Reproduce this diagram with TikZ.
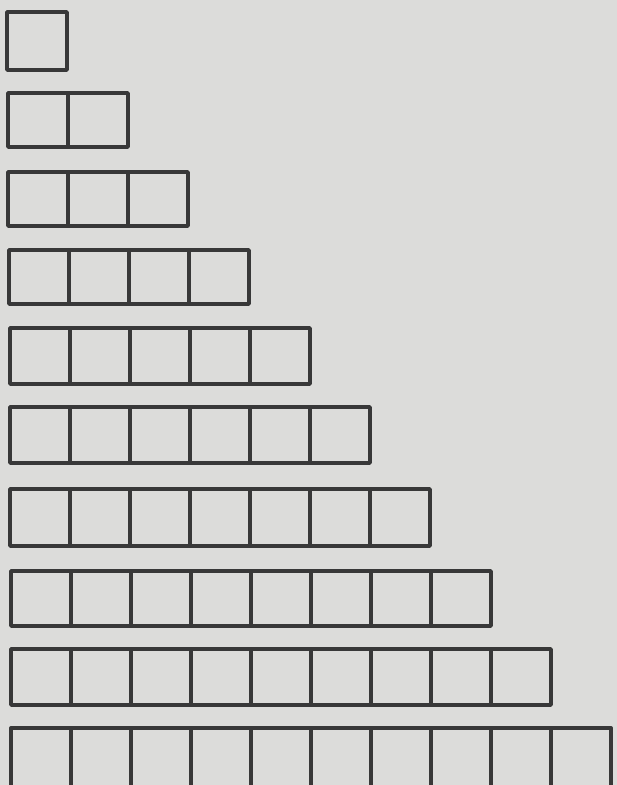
\documentclass[tikz,border=0pt]{standalone}
\usepackage{tikz}
\usetikzlibrary{positioning}
\definecolor{paper}{HTML}{DCDCDA}
\definecolor{ink}{HTML}{383838}

\begin{document}
\begin{tikzpicture}[x=0.5pt,y=-0.5pt]
    % Paper (fixes the margins)
    \useasboundingbox (0,0) rectangle (616,785);
    \fill[paper,overlay] (-10,-10) rectangle (630,800);
    \clip (0,0) rectangle (616,785);

    % Rows of cells: row k has k cells of width 60
    \foreach \k/\x/\t/\b in {1/7/12/70, 2/8/93/147, 3/8/172/226, 4/9/250/304,
                            5/10/328/384, 6/10/407/463, 7/10/489/546,
                            8/11/571/626, 9/11/649/705, 10/11/728/787}{
        \draw[ink,line width=1.7pt,line join=round] (\x,\t) rectangle (\x+60*\k,\b);
        \foreach \i in {1,...,\k}{
            \ifnum\i<\k
                \draw[ink,line width=1.7pt] (\x+60*\i,\t) -- (\x+60*\i,\b);
            \fi
        }
    }
\end{tikzpicture}
\end{document}
